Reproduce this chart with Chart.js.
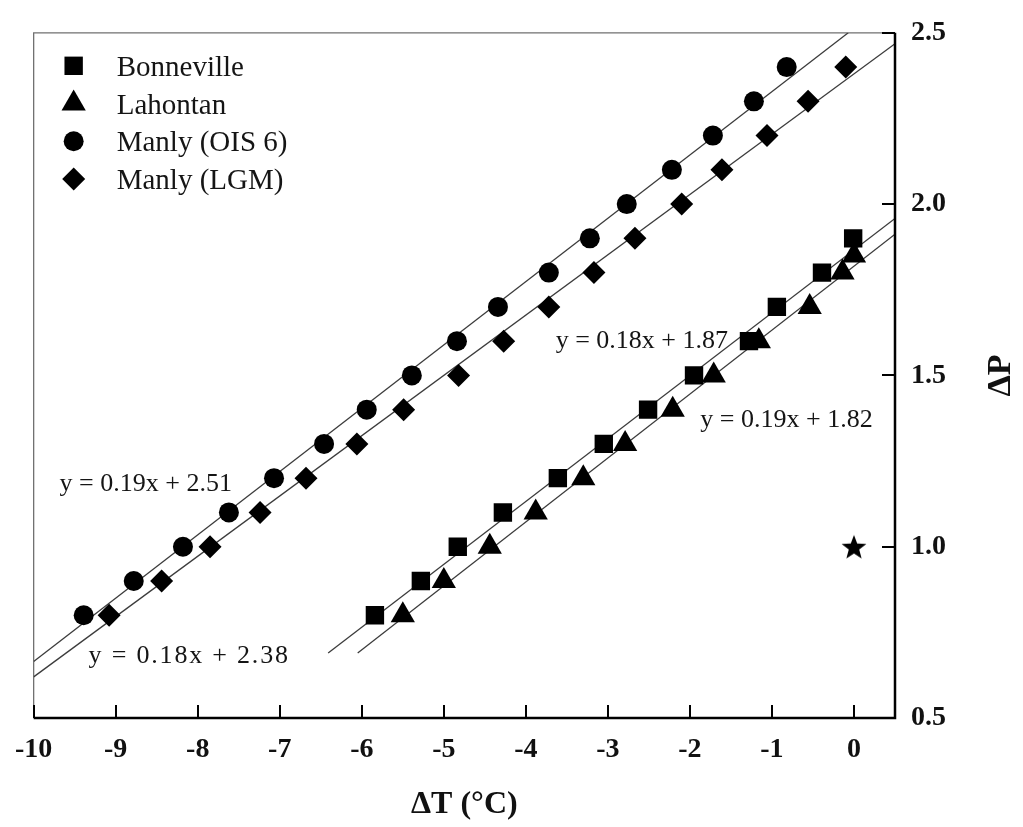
<!DOCTYPE html>
<html><head><meta charset="utf-8">
<script src="https://cdn.jsdelivr.net/npm/chart.js@4.4.1/dist/chart.umd.min.js"></script>
<style>html,body{margin:0;padding:0;background:#fff}canvas{display:block}</style>
</head><body>
<canvas id="c" width="1023" height="827"></canvas>
<script>
// ---------- data ----------
const xTickValues = [-10,-9,-8,-7,-6,-5,-4,-3,-2,-1,0];
const yTickValues = [0.5,1.0,1.5,2.0,2.5];
const seriesNames = ['Bonneville','Lahontan','Manly (OIS 6)','Manly (LGM)'];

const bonnevilleX = [-5.84,-5.28,-4.83,-4.28,-3.61,-3.05,-2.51,-1.95,-1.28,-0.94,-0.39,-0.01];
const bonnevilleY = [0.8,0.9,1.0,1.1,1.2,1.3,1.4,1.5,1.6,1.7,1.8,1.9];
const lahontanX   = [-5.50,-5.00,-4.44,-3.88,-3.30,-2.79,-2.21,-1.71,-1.16,-0.54,-0.14,0.0];
const lahontanY   = [0.8,0.9,1.0,1.1,1.2,1.3,1.4,1.5,1.6,1.7,1.8,1.85];
const oisX = [-9.39,-8.78,-8.18,-7.62,-7.07,-6.46,-5.94,-5.39,-4.84,-4.34,-3.72,-3.22,-2.77,-2.22,-1.72,-1.22,-0.82];
const oisY = [0.8,0.9,1.0,1.1,1.2,1.3,1.4,1.5,1.6,1.7,1.8,1.9,2.0,2.1,2.2,2.3,2.4];
const lgmX = [-9.08,-8.44,-7.85,-7.24,-6.68,-6.06,-5.49,-4.82,-4.27,-3.72,-3.17,-2.67,-2.10,-1.61,-1.06,-0.56,-0.10];
const lgmY = [0.8,0.9,1.0,1.1,1.2,1.3,1.4,1.5,1.6,1.7,1.8,1.9,2.0,2.1,2.2,2.3,2.4];
const starX = [0];
const starY = [1.0];

// regression lines (endpoints)
const fitOisX = [-10, -0.07],  fitOisY = [0.665, 2.5];
const fitLgmX = [-10, 0.5],    fitLgmY = [0.62, 2.468];
const fitBonX = [-6.41, 0.5],  fitBonY = [0.69, 1.958];
const fitLahX = [-6.05, 0.5],  fitLahY = [0.69, 1.912];

const eqTexts = ['y = 0.19x + 2.51','y = 0.18x + 2.38','y = 0.18x + 1.87','y = 0.19x + 1.82'];
const eqX = [-9.684, -9.33, -3.637, -1.873];
const eqY = [1.163, 0.661, 1.581, 1.350];

const xTitle = 'ΔT (°C)';
const yTitle = 'ΔP';

// ---------- helpers ----------
const SERIF = "'Liberation Serif','Times New Roman',serif";
const zip = (xs, ys) => xs.map((x, i) => ({x, y: ys[i]}));

function makeStar(R){
  const s = Math.ceil(R*2+4);
  const c = document.createElement('canvas');
  c.width = s; c.height = s;
  const g = c.getContext('2d');
  g.fillStyle = '#000';
  g.beginPath();
  for (let i = 0; i < 10; i++){
    const r = i % 2 ? R*0.42 : R;
    const a = -Math.PI/2 + i*Math.PI/5;
    g.lineTo(s/2 + r*Math.cos(a), s/2 + r*Math.sin(a) + R*0.09);
  }
  g.closePath(); g.fill();
  return c;
}
const starImg = makeStar(13);

function pts(label, xs, ys, style, r){
  return {label, data: zip(xs, ys), pointStyle: style, pointRadius: r, pointHoverRadius: r,
    backgroundColor:'#000', borderColor:'#000', borderWidth:0, showLine:false, order:1};
}
function fit(xs, ys){
  return {type:'line', label:'fit', data: zip(xs, ys), showLine:true, borderColor:'#3c3c3c',
    borderWidth:1.3, pointRadius:0, fill:false, order:2};
}

const framePlugin = {
  id:'frame',
  beforeDatasetsDraw(chart){
    const {ctx, chartArea:a} = chart;
    ctx.save();
    ctx.strokeStyle = '#707070'; ctx.lineWidth = 1.3;
    ctx.beginPath();
    ctx.moveTo(a.left, a.bottom); ctx.lineTo(a.left, a.top); ctx.lineTo(a.right, a.top);
    ctx.stroke();
    ctx.restore();
  },
  afterDraw(chart){
    const {ctx, chartArea:a, scales} = chart;
    ctx.save();
    ctx.strokeStyle = '#000'; ctx.lineWidth = 2;
    ctx.beginPath();
    scales.x.ticks.forEach(t => { const p = Math.round(scales.x.getPixelForValue(t.value)); ctx.moveTo(p, a.bottom); ctx.lineTo(p, a.bottom - 13); });
    scales.y.ticks.forEach(t => { const p = Math.round(scales.y.getPixelForValue(t.value)); ctx.moveTo(a.right, p); ctx.lineTo(a.right - 13, p); });
    ctx.stroke();
    // right and bottom axis lines
    ctx.lineWidth = 2.5;
    ctx.beginPath(); ctx.moveTo(a.right, a.top); ctx.lineTo(a.right, a.bottom); ctx.lineTo(a.left, a.bottom); ctx.stroke();

    // equations
    ctx.fillStyle = '#151515';
    ctx.font = '26px ' + SERIF;
    ctx.textAlign = 'left'; ctx.textBaseline = 'alphabetic';
    eqTexts.forEach((t, i) => {
      ctx.letterSpacing = (i === 1) ? '1.8px' : '0px';
      ctx.fillText(t, scales.x.getPixelForValue(eqX[i]), scales.y.getPixelForValue(eqY[i]));
    });
    ctx.letterSpacing = '0px';

    // legend
    const mx = a.left + 40, tx = a.left + 83;
    ctx.font = '29px ' + SERIF;
    for (let i = 0; i < 4; i++){
      const ds = chart.data.datasets[i];
      const cy = a.top + 33 + i*37.7;
      ctx.fillStyle = '#000'; ctx.strokeStyle = '#000';
      Chart.helpers.drawPoint(ctx, {pointStyle: ds.pointStyle, radius: ds.pointRadius, rotation:0, borderWidth:0}, mx, cy);
      ctx.fillStyle = '#151515';
      ctx.fillText(seriesNames[i], tx, cy + 10);
    }

    // right axis title (reads bottom-to-top)
    ctx.save();
    ctx.translate(1001, (a.top + a.bottom)/2);
    ctx.rotate(-Math.PI/2);
    ctx.font = 'bold 34px ' + SERIF;
    ctx.textAlign = 'center'; ctx.textBaseline = 'middle';
    ctx.fillStyle = '#111';
    ctx.fillText(yTitle, 0, 0);
    ctx.restore();
    ctx.restore();
  }
};

new Chart(document.getElementById('c'), {
  type:'scatter',
  data:{datasets:[
    pts(seriesNames[0], bonnevilleX, bonnevilleY, 'rect', 13),
    pts(seriesNames[1], lahontanX, lahontanY, 'triangle', 14),
    pts(seriesNames[2], oisX, oisY, 'circle', 10),
    pts(seriesNames[3], lgmX, lgmY, 'rectRot', 11.5),
    {label:'star', data: zip(starX, starY), pointStyle: starImg, pointRadius:12, showLine:false, order:1},
    fit(fitOisX, fitOisY), fit(fitLgmX, fitLgmY), fit(fitBonX, fitBonY), fit(fitLahX, fitLahY)
  ]},
  options:{
    responsive:false, animation:false, devicePixelRatio:1,
    layout:{padding:{left:32, top:24, right:0, bottom:0}},
    plugins:{legend:{display:false}, tooltip:{enabled:false}},
    scales:{
      x:{type:'linear', position:'bottom', min:-10, max:0.5,
        afterBuildTicks: s => { s.ticks = xTickValues.map(v => ({value:v})); },
        afterFit: s => { s.height = 109; },
        grid:{display:false, drawTicks:false},
        border:{display:false},
        ticks:{autoSkip:false, maxRotation:0, padding:15, color:'#111',
          font:{family:SERIF, size:28, weight:'bold'}, callback: v => String(v)},
        title:{display:true, text:xTitle, color:'#111', font:{family:SERIF, size:32, weight:'bold'}, padding:{top:0, bottom:3}}
      },
      y:{type:'linear', position:'right', min:0.5, max:2.5,
        afterBuildTicks: s => { s.ticks = yTickValues.map(v => ({value:v})); },
        afterFit: s => { s.width = 128; },
        grid:{display:false, drawTicks:false},
        border:{display:false},
        ticks:{padding:16, color:'#111', font:{family:SERIF, size:28, weight:'bold'}, callback: v => Number(v).toFixed(1)}
      }
    }
  },
  plugins:[framePlugin]
});
</script>
</body></html>
